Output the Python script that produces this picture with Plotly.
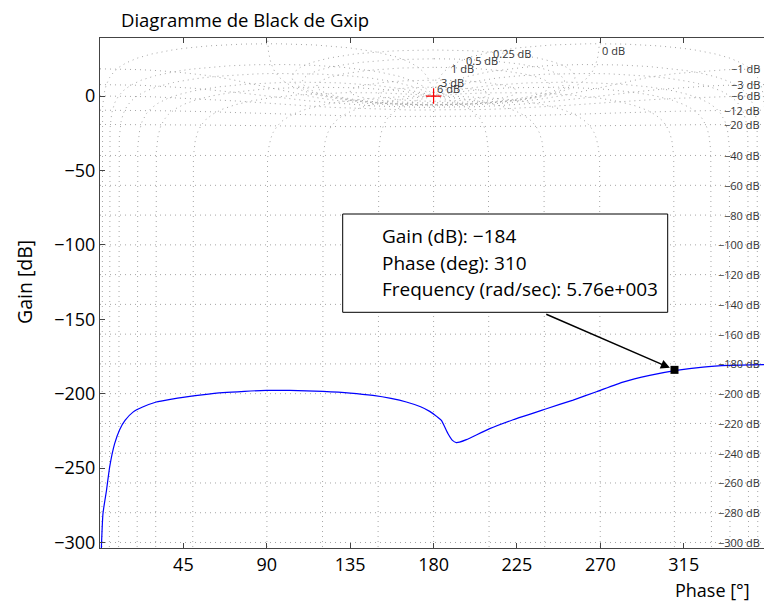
import numpy as np
import plotly.graph_objects as go

# ---------------- data ----------------
phase_deg = [0.7, 1.6, 3.5, 5.2, 7.9, 10.6, 13.5, 17.8, 23.0, 30.4, 38.0, 45.7, 55.0, 66.4,
             78.0, 89.8, 102.4, 120.3, 135.0, 147.3, 157.0, 165.3, 173.0, 177.9, 182.0,
             184.2, 187.8, 190.2, 192.3, 194.0, 197.7, 210.3, 222.9, 240.9, 255.3, 267.9,
             282.2, 296.6, 311.0, 325.4, 339.8, 358.5]
gain_db = [-305.0, -280.6, -265.0, -249.3, -233.6, -224.2, -218.0, -212.4, -209.0, -205.6,
           -203.8, -202.3, -200.8, -199.3, -198.4, -197.8, -197.8, -198.5, -199.6, -201.2,
           -203.2, -205.6, -208.8, -211.9, -215.6, -218.0, -226.9, -231.4, -232.9, -232.6,
           -230.9, -223.5, -217.5, -210.1, -204.3, -198.7, -192.2, -187.7, -184.3, -182.1,
           -181.0, -180.5]

tip_gain = -184
tip_phase = 310
tip_freq = "5.76e+003"

x_ticks = [45, 90, 135, 180, 225, 270, 315]
y_ticks = [0, -50, -100, -150, -200, -250, -300]

# Nichols grid values (closed-loop gain in dB, closed-loop phase in deg)
grid_gains = [6, 3, 1, 0.5, 0.25, 0, -1, -3, -6, -12, -20, -40, -60, -80, -100, -120,
              -140, -160, -180, -200, -220, -240, -260, -280, -300]
grid_phases = [1, 5, 10, 20, 30, 50, 90, 120, 150, 180]
inner_labels = ["6 dB", "3 dB", "1 dB", "0.5 dB", "0.25 dB", "0 dB"]

X_RANGE = [0, 358.3]
Y_RANGE = [-303.7, 39.0]

# ---------------- layout geometry ----------------
FIG_W, FIG_H = 764, 606
ML, MR, MT, MB = 100, 0, 38, 58
PW, PH = FIG_W - ML - MR, FIG_H - MT - MB

def pxx(x):  # pixel -> paper
    return (x - ML) / PW

def pxy(y):
    return (FIG_H - MB - y) / PH

FONT = "Open Sans"

# ---------------- Nichols grid computation ----------------
gx, gy = [], []
p = np.linspace(0, 360, 2881)
c = np.cos(np.radians(p))
right_label_pos = []
for mdb in grid_gains:
    M = 10 ** (mdb / 20)
    if mdb < 0:
        r = (M**2 * c + np.sqrt(M**4 * c**2 + M**2 * (1 - M**2))) / (1 - M**2)
        xs, ys = p, 20 * np.log10(r)
        cc = np.cos(np.radians(X_RANGE[1]))
        rr = (M**2 * cc + np.sqrt(M**4 * cc**2 + M**2 * (1 - M**2))) / (1 - M**2)
        right_label_pos.append((mdb, 20 * np.log10(rr)))
    elif mdb == 0:
        m = c < -1e-6
        xs, ys = p[m], 20 * np.log10(-1 / (2 * c[m]))
    else:
        psi = np.linspace(0, 2 * np.pi, 2001)
        T = M * np.exp(1j * psi)
        L = T / (1 - T)
        xs = np.mod(np.degrees(np.angle(L)), 360)
        ys = 20 * np.log10(np.abs(L))
    gx += list(xs) + [None]
    gy += list(ys) + [None]

m_vals = np.unique(np.concatenate([np.logspace(-17, 7, 5000),
                                   np.linspace(0.8, 1.2, 1500)]))
cl_list = grid_phases + [360 - v for v in grid_phases if v != 180]
for th in cl_list:
    T = m_vals * np.exp(-1j * np.radians(th))
    L = T / (1 - T)
    xs = np.mod(np.degrees(np.angle(L)), 360)
    ys = 20 * np.log10(np.abs(L))
    gx += list(xs) + [None]
    gy += list(ys) + [None]

fig = go.Figure()
fig.add_trace(go.Scatter(x=gx, y=gy, mode="lines", hoverinfo="skip",
                         line=dict(color="#a6a6a6", width=1, dash="1px,4px"),
                         showlegend=False))

# open-loop curve
fig.add_trace(go.Scatter(x=phase_deg, y=gain_db, mode="lines",
                         line=dict(color="#0000ff", width=1.2, shape="spline", smoothing=0.5),
                         showlegend=False))

# critical point
fig.add_trace(go.Scatter(x=[180], y=[0], mode="markers",
                         marker=dict(symbol="cross-thin", size=11,
                                     line=dict(color="#ff0000", width=1.2)),
                         showlegend=False))

# data tip marker
fig.add_trace(go.Scatter(x=[tip_phase], y=[tip_gain], mode="markers",
                         marker=dict(symbol="square", size=8, color="#000000"),
                         showlegend=False))

ann = []
for mdb, yv in right_label_pos:
    ann.append(dict(x=357.2, y=yv, xref="x", yref="y", text=f"{mdb:g} dB".replace("-", "\u2212"),
                    showarrow=False, xanchor="right", yanchor="middle",
                    font=dict(family=FONT, size=11, color="#333333")))
inner_pos = [(188.2, 5.0), (190.0, 9.4), (195.7, 18.4), (206.3, 24.0), (222.4, 28.9), (277.2, 30.7)]
for t, (xv, yv) in zip(inner_labels, inner_pos):
    ann.append(dict(x=xv, y=yv, xref="x", yref="y", text=t, showarrow=False,
                    xanchor="center", yanchor="middle",
                    font=dict(family=FONT, size=11, color="#333333")))

ann.append(dict(x=pxx(245), y=pxy(20), xref="paper", yref="paper",
                text="Diagramme de Black de Gxip", showarrow=False,
                xanchor="center", yanchor="middle", font=dict(family=FONT, size=18.5, color="#000")))
ann.append(dict(x=pxx(24), y=pxy(282), xref="paper", yref="paper", text="Gain [dB]",
                textangle=-90, showarrow=False, xanchor="center", yanchor="middle",
                font=dict(family=FONT, size=19.5, color="#000")))
ann.append(dict(x=pxx(712), y=pxy(590), xref="paper", yref="paper", text="Phase [°]",
                showarrow=False, xanchor="center", yanchor="middle",
                font=dict(family=FONT, size=18, color="#000")))

tip_lines = [f"Gain (dB): {tip_gain}".replace("-", "\u2212"),
             f"Phase (deg): {tip_phase}",
             f"Frequency (rad/sec): {tip_freq}"]
for i, t in enumerate(tip_lines):
    ann.append(dict(x=pxx(380), y=pxy(236 + 26.5 * i), xref="paper", yref="paper", text=t,
                    showarrow=False, xanchor="left", yanchor="middle",
                    font=dict(family=FONT, size=19, color="#000")))

ann.append(dict(x=tip_phase, y=tip_gain, xref="x", yref="y", text="",
                ax=240, ay=-146.2, axref="x", ayref="y", showarrow=True,
                arrowhead=2, arrowsize=1.3, arrowwidth=1.4, arrowcolor="#000", standoff=5))

shapes = [dict(type="rect", xref="paper", yref="paper",
               x0=pxx(342.7), x1=pxx(667.7), y0=pxy(214), y1=pxy(312.3),
               line=dict(color="#000", width=1), fillcolor="rgba(255,255,255,1)", layer="above")]

fig.update_layout(
    width=FIG_W, height=FIG_H,
    margin=dict(l=ML, r=MR, t=MT, b=MB),
    paper_bgcolor="white", plot_bgcolor="white",
    annotations=ann, shapes=shapes, showlegend=False,
    xaxis=dict(range=X_RANGE, tickvals=x_ticks, ticks="inside", ticklen=5,
               tickcolor="#444", showline=True, linecolor="#444", linewidth=1,
               mirror="ticks", showgrid=False, zeroline=False,
               tickfont=dict(family=FONT, size=18, color="#000")),
    yaxis=dict(range=Y_RANGE, tickvals=y_ticks, ticks="inside", ticklen=5,
               tickcolor="#444", showline=True, linecolor="#444", linewidth=1,
               mirror=False, showgrid=False, zeroline=False,
               tickfont=dict(family=FONT, size=18, color="#000")),
)

fig.write_html("out.html", config={"displayModeBar": False},
               post_script="document.body.style.margin='0';document.body.style.overflow='hidden';")
